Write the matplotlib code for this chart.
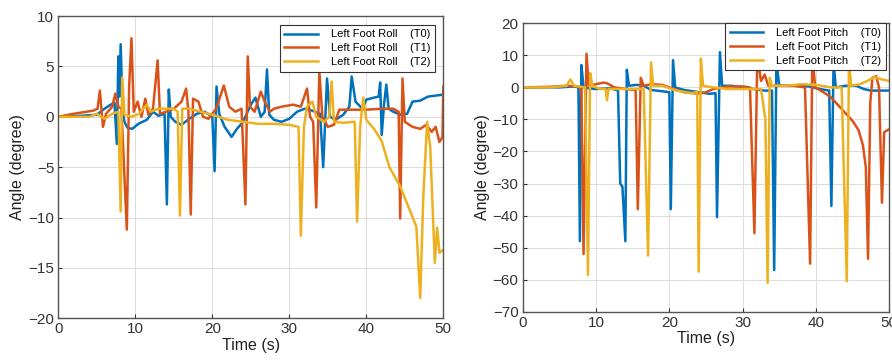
#!/usr/bin/env python3
"""Left foot roll / pitch angle over time for three trials (T0, T1, T2)."""

import matplotlib
matplotlib.use("Agg")
import matplotlib.pyplot as plt
import numpy as np

plt.rcParams["font.family"] = ["Liberation Sans", "DejaVu Sans"]

TRIALS = ["T0", "T1", "T2"]
COLORS = ["#0072BD", "#D95319", "#EDB120"]

# (time s, angle deg)
roll_t0 = [(0, 0), (3, 0.1), (5, 0.2), (6, 0.8), (6.8, 1.2), (7.3, 1.4), (7.6, -2.7), (7.8, 6.0),
           (7.95, 2.0), (8.1, 7.2), (8.35, 0.5), (8.6, -0.5), (9.0, -1.1), (9.6, -1.2), (10.4, -0.7),
           (11.5, -0.3), (12.3, 0.5), (13.0, 0.1), (13.8, 0.3), (14.1, -8.7), (14.35, 2.7), (14.6, 0.0),
           (15.2, -0.5), (16.0, -0.8), (17.0, -0.2), (18.0, 0.3), (19.0, 0.5), (20.0, 0.0), (20.3, -5.4),
           (20.55, 3.0), (20.9, 0.3), (21.6, -1.0), (22.5, -2.0), (23.2, -1.2), (24.0, -0.5), (25.0, 1.2),
           (25.6, 1.9), (26.3, 0.0), (26.8, 0.5), (27.1, 4.7), (27.4, 0.2), (28.0, -0.3), (29.0, -0.5),
           (30.0, -0.2), (31.0, 0.5), (32.0, 0.8), (33.0, 0.6), (34.0, 0.3), (34.4, -5.0), (34.9, 3.8),
           (35.3, 0.0), (36.0, -0.3), (37.0, 0.2), (37.8, 1.0), (38.1, 4.0), (38.6, 1.5), (39.5, 0.8),
           (40.0, 1.7), (41.0, 1.9), (41.6, 2.0), (41.8, 3.4), (42.0, -1.8), (42.3, 1.2), (42.6, 3.2),
           (42.9, 0.8), (43.5, 0.5), (44.5, 0.2), (45.3, 0.3), (46.0, 1.5), (47.0, 1.6), (48.0, 2.0),
           (49.0, 2.1), (50.0, 2.2)]
roll_t1 = [(0, 0), (2, 0.3), (4.5, 0.6), (5.1, 0.8), (5.4, 2.6), (5.8, -1.0), (6.2, 0.3), (7.0, 1.0),
           (7.4, 2.3), (7.8, 1.0), (8.2, 0.8), (8.9, -11.2), (9.2, 3.0), (9.5, 7.8), (9.8, 0.5),
           (10.3, 1.5), (10.8, 0.0), (11.3, 1.8), (11.7, 0.2), (12.3, 0.8), (12.9, 5.6), (13.2, 0.3),
           (14.0, 0.5), (15.0, 0.8), (16.0, 1.5), (16.6, 2.8), (16.9, 0.5), (17.2, -9.7), (17.5, 1.8),
           (18.2, 1.5), (18.8, 0.0), (19.5, -0.2), (20.5, 0.8), (21.5, 3.1), (22.2, 1.0), (23.0, 0.5),
           (23.8, 0.8), (24.3, -8.7), (24.6, 6.0), (24.9, 1.0), (25.5, 0.5), (26.3, 2.5), (26.8, 1.5),
           (27.5, 0.5), (28.0, 0.8), (29.0, 1.0), (30.5, 1.2), (31.5, 1.0), (32.3, 2.8), (32.7, 0.0),
           (33.1, -0.5), (33.5, -9.0), (33.9, 4.5), (34.3, 0.0), (35.0, -1.0), (35.8, -0.8), (36.5, 0.7),
           (38.0, 0.7), (40.0, 0.7), (42.0, 0.8), (43.5, 0.8), (44.2, 0.5), (44.4, -10.1), (44.7, 3.8),
           (45.0, -0.5), (46.0, -1.0), (47.0, -1.2), (47.8, -0.8), (48.5, -1.5), (49.0, -1.0),
           (49.5, -2.5), (49.9, -2.0), (50.0, 3.0)]
roll_t2 = [(0, 0), (4, 0.0), (5, 0.3), (6, -0.2), (7, 0.3), (7.8, 0.5), (8.1, -9.4), (8.3, 3.9),
           (8.6, 0.2), (9.5, 0.0), (10.5, 0.3), (11.5, 1.2), (12.0, 0.5), (13.0, 0.8), (14.0, 0.8),
           (15.0, 0.8), (15.5, 0.5), (15.8, -9.8), (16.1, 0.8), (17.0, 0.8), (18.5, 0.5), (20.0, 0.2),
           (22.0, -0.3), (24.0, -0.5), (26.0, -0.7), (28.0, -0.7), (30.0, -0.8), (31.2, -1.0),
           (31.5, -11.8), (31.9, -1.0), (32.3, 1.0), (33.0, 1.5), (33.5, 0.0), (34.5, -0.5), (35.2, 0.0),
           (35.5, 3.5), (35.8, -0.5), (37.0, -0.6), (38.5, -0.5), (38.8, -10.4), (39.2, -1.0),
           (39.6, 1.9), (40.0, -0.3), (41.0, -1.2), (42.0, -2.4), (43.0, -5.0), (44.4, -6.9),
           (45.5, -9.0), (46.5, -10.9), (47.0, -18.0), (47.4, -8.0), (47.9, -0.5), (48.3, -3.0),
           (48.9, -14.5), (49.2, -11.0), (49.5, -13.5), (50.0, -13.2)]

pitch_t0 = [(0, 0), (5, 0), (7, 0.3), (7.6, 0.0), (7.8, -48), (8.0, 7.0), (8.3, 0.0), (9, -0.3),
            (10, -0.5), (12, -0.3), (13.0, -1.0), (13.3, -30), (13.6, -31), (14.0, -48), (14.2, 5.5),
            (14.5, 0.5), (15.5, 0.8), (16.5, 0.5), (17.5, -0.8), (19, -1.2), (20.0, -1.5), (20.2, -38),
            (20.5, 8.5), (20.8, 0.0), (22, -0.8), (24, -1.5), (25.5, -2.0), (26.3, -1.8), (26.5, -40.5),
            (26.9, 11), (27.2, 0.5), (28.5, 0.5), (30, 0.0), (31.5, -0.5), (33, -1.0), (34.0, -1.0),
            (34.3, -57), (34.6, 8), (35, 0.5), (37, 0.5), (39, 0.3), (40.5, -0.5), (41.8, -1.0),
            (42.1, -37), (42.4, 8), (42.7, 0), (44, 0.5), (45.5, 0.5), (46.5, -0.5), (47.5, -1.0),
            (50, -1.0)]
pitch_t1 = [(0, 0), (4, 0.2), (6, 0.5), (7.5, 0.3), (8.0, -0.5), (8.3, -52), (8.7, 10.5), (9.0, 0.5),
            (10, 1.0), (11.0, 1.5), (11.5, 1.3), (12.5, 0.0), (14, -0.5), (15.4, -0.8), (15.7, -38),
            (16.1, 3.0), (16.5, 0.5), (17.5, 1.0), (19, 0.8), (20, 0.0), (22, -1.5), (24, -2.0),
            (25, -1.5), (26, -0.5), (28, 0.3), (30, 0.3), (31.0, 0.0), (31.6, -45.5), (32.0, 10),
            (32.5, 2), (33.0, 4.0), (33.5, 0.5), (35, 0.5), (37, 0.5), (38.5, 0.0), (39.2, -55),
            (39.5, 10), (39.9, 0.0), (41, -1.5), (42, -3.0), (43, -5.5), (44, -8.0), (45, -10.5),
            (45.8, -13.3), (46.4, -18), (46.8, -25), (47.1, -53.5), (47.4, -5), (47.7, 3.0),
            (48.2, 3.5), (48.6, 0.0), (49.0, -36), (49.3, -14), (50, -13)]
pitch_t2 = [(0, 0), (4, 0), (6, 0.5), (6.5, 2.5), (7, 0.5), (8.5, 0.0), (8.9, -58.5), (9.2, 4.5),
            (9.5, 0.5), (10.5, -0.5), (11.3, -0.5), (11.5, -4.0), (11.7, -0.5), (13, -0.5), (15, -0.5),
            (16.5, -0.5), (17.1, -52.5), (17.5, 7.8), (17.8, 0.5), (19, 0.5), (21, -1.0), (23, -1.8),
            (23.8, -1.5), (24.0, -57.5), (24.3, 9), (24.6, 0.5), (26, 0.0), (28, -0.5), (30, -0.5),
            (32.5, -0.5), (33.1, -10), (33.4, -61), (33.7, 3), (34.0, 0.5), (36, 0.5), (38, 1.0),
            (40, 0.8), (42, 0.0), (43.5, 0.0), (44.2, -60.5), (44.5, 8), (44.8, 0.5), (46, 1.0),
            (47, 2.0), (48, 3.2), (49, 2.5), (50, 2.0)]

roll_series = [roll_t0, roll_t1, roll_t2]
pitch_series = [pitch_t0, pitch_t1, pitch_t2]

W, H = 892, 360
fig = plt.figure(figsize=(W / 100, H / 100), dpi=100)


def axes_px(left, top, right, bottom):
    return fig.add_axes([left / W, 1 - bottom / H, (right - left) / W, (bottom - top) / H])


def draw(ax, series, name, ylim, yticks, leg_anchor):
    for pts, trial, color in zip(series, TRIALS, COLORS):
        arr = np.array(pts, dtype=float)
        ax.plot(arr[:, 0], arr[:, 1], color=color, linewidth=1.8,
                label=f"{name}    ({trial})")
    ax.set_xlim(0, 50)
    ax.set_ylim(*ylim)
    ax.set_xticks([0, 10, 20, 30, 40, 50])
    ax.set_yticks(yticks)
    ax.grid(True, color="#dcdcdc", linewidth=0.7)
    ax.set_axisbelow(True)
    for sp in ax.spines.values():
        sp.set_color("#555555")
        sp.set_linewidth(1.0)
    ax.tick_params(direction="in", length=3, labelsize=11, colors="#333333", pad=3)
    ax.set_xlabel("Time (s)", fontsize=11.5, color="#222222", labelpad=1)
    ax.set_ylabel("Angle (degree)", fontsize=11.5, color="#222222", labelpad=2)
    leg = ax.legend(loc="upper right", bbox_to_anchor=leg_anchor, fontsize=8,
                    frameon=True, fancybox=False, edgecolor="#333333", framealpha=1.0,
                    handlelength=3.0, borderpad=0.4, labelspacing=0.35,
                    handletextpad=1.2, borderaxespad=0.0)
    leg.get_frame().set_linewidth(0.8)


ax1 = axes_px(58.3, 16, 443.3, 318.3)
draw(ax1, roll_series, "Left Foot Roll", (-20, 10), [-20, -15, -10, -5, 0, 5, 10],
     ((435 - 58.3) / (443.3 - 58.3), 1 - (25 - 16) / (318.3 - 16)))

ax2 = axes_px(522.7, 23.3, 889.3, 311.7)
draw(ax2, pitch_series, "Left Foot Pitch", (-70, 20), list(range(-70, 21, 10)),
     ((886 - 522.7) / (889.3 - 522.7), 1.0))

fig.savefig("out.png", dpi=100)
